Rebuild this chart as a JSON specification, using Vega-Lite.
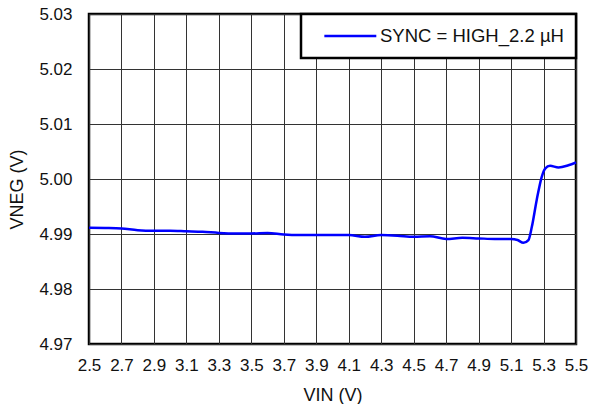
{
  "$schema": "https://vega.github.io/schema/vega-lite/v6.json",
  "width": 487,
  "height": 330,
  "autosize": "none",
  "padding": {"left": 89, "top": 14, "right": 16, "bottom": 60},
  "background": "white",
  "config": {
    "font": "Liberation Sans",
    "view": {"stroke": "black", "strokeWidth": 2.5},
    "axis": {
      "labelFont": "Liberation Sans",
      "titleFont": "Liberation Sans",
      "labelColor": "#111",
      "titleColor": "#111",
      "labelFontSize": 17,
      "titleFontSize": 18,
      "titleFontWeight": "normal",
      "domain": false,
      "ticks": false,
      "gridColor": "#333",
      "gridWidth": 1,
      "gridOpacity": 1
    }
  },
  "data": {
    "values": [
      {"vin": 2.5, "vneg": 4.99115, "series": "SYNC = HIGH_2.2 µH"},
      {"vin": 2.6, "vneg": 4.9911, "series": "SYNC = HIGH_2.2 µH"},
      {"vin": 2.7, "vneg": 4.9910, "series": "SYNC = HIGH_2.2 µH"},
      {"vin": 2.8, "vneg": 4.9907, "series": "SYNC = HIGH_2.2 µH"},
      {"vin": 2.9, "vneg": 4.9906, "series": "SYNC = HIGH_2.2 µH"},
      {"vin": 3.0, "vneg": 4.9906, "series": "SYNC = HIGH_2.2 µH"},
      {"vin": 3.1, "vneg": 4.9905, "series": "SYNC = HIGH_2.2 µH"},
      {"vin": 3.2, "vneg": 4.9904, "series": "SYNC = HIGH_2.2 µH"},
      {"vin": 3.3, "vneg": 4.9902, "series": "SYNC = HIGH_2.2 µH"},
      {"vin": 3.4, "vneg": 4.9901, "series": "SYNC = HIGH_2.2 µH"},
      {"vin": 3.5, "vneg": 4.9901, "series": "SYNC = HIGH_2.2 µH"},
      {"vin": 3.6, "vneg": 4.9902, "series": "SYNC = HIGH_2.2 µH"},
      {"vin": 3.7, "vneg": 4.9899, "series": "SYNC = HIGH_2.2 µH"},
      {"vin": 3.8, "vneg": 4.9898, "series": "SYNC = HIGH_2.2 µH"},
      {"vin": 3.9, "vneg": 4.9898, "series": "SYNC = HIGH_2.2 µH"},
      {"vin": 4.0, "vneg": 4.9898, "series": "SYNC = HIGH_2.2 µH"},
      {"vin": 4.1, "vneg": 4.9898, "series": "SYNC = HIGH_2.2 µH"},
      {"vin": 4.2, "vneg": 4.9895, "series": "SYNC = HIGH_2.2 µH"},
      {"vin": 4.3, "vneg": 4.9898, "series": "SYNC = HIGH_2.2 µH"},
      {"vin": 4.4, "vneg": 4.9897, "series": "SYNC = HIGH_2.2 µH"},
      {"vin": 4.5, "vneg": 4.9895, "series": "SYNC = HIGH_2.2 µH"},
      {"vin": 4.6, "vneg": 4.9896, "series": "SYNC = HIGH_2.2 µH"},
      {"vin": 4.7, "vneg": 4.9891, "series": "SYNC = HIGH_2.2 µH"},
      {"vin": 4.8, "vneg": 4.9893, "series": "SYNC = HIGH_2.2 µH"},
      {"vin": 4.9, "vneg": 4.9892, "series": "SYNC = HIGH_2.2 µH"},
      {"vin": 5.0, "vneg": 4.9891, "series": "SYNC = HIGH_2.2 µH"},
      {"vin": 5.1, "vneg": 4.9891, "series": "SYNC = HIGH_2.2 µH"},
      {"vin": 5.14, "vneg": 4.9889, "series": "SYNC = HIGH_2.2 µH"},
      {"vin": 5.176, "vneg": 4.9884, "series": "SYNC = HIGH_2.2 µH"},
      {"vin": 5.207, "vneg": 4.9889, "series": "SYNC = HIGH_2.2 µH"},
      {"vin": 5.228, "vneg": 4.9913, "series": "SYNC = HIGH_2.2 µH"},
      {"vin": 5.258, "vneg": 4.9962, "series": "SYNC = HIGH_2.2 µH"},
      {"vin": 5.289, "vneg": 5.0004, "series": "SYNC = HIGH_2.2 µH"},
      {"vin": 5.31, "vneg": 5.0019, "series": "SYNC = HIGH_2.2 µH"},
      {"vin": 5.34, "vneg": 5.0024, "series": "SYNC = HIGH_2.2 µH"},
      {"vin": 5.392, "vneg": 5.0021, "series": "SYNC = HIGH_2.2 µH"},
      {"vin": 5.453, "vneg": 5.0025, "series": "SYNC = HIGH_2.2 µH"},
      {"vin": 5.5, "vneg": 5.0030, "series": "SYNC = HIGH_2.2 µH"}
    ]
  },
  "mark": {"type": "line", "strokeWidth": 2.5, "interpolate": "monotone"},
  "encoding": {
    "x": {
      "field": "vin",
      "type": "quantitative",
      "scale": {"domain": [2.5, 5.5], "nice": false, "zero": false},
      "axis": {
        "title": "VIN (V)",
        "values": [2.5, 2.7, 2.9, 3.1, 3.3, 3.5, 3.7, 3.9, 4.1, 4.3, 4.5, 4.7, 4.9, 5.1, 5.3, 5.5],
        "format": ".1f",
        "labelPadding": 13,
        "titlePadding": 13,
        "labelFlush": false
      }
    },
    "y": {
      "field": "vneg",
      "type": "quantitative",
      "scale": {"domain": [4.97, 5.03], "nice": false, "zero": false},
      "axis": {
        "title": "VNEG (V)",
        "values": [4.97, 4.98, 4.99, 5.0, 5.01, 5.02, 5.03],
        "format": ".2f",
        "labelPadding": 17,
        "titlePadding": 12,
        "titleY": 175,
        "labelFlush": false
      }
    },
    "color": {
      "field": "series",
      "type": "nominal",
      "scale": {"range": ["#0000FF"]},
      "legend": {
        "title": null,
        "orient": "none",
        "legendX": 212,
        "legendY": 0,
        "padding": 12,
        "fillColor": "white",
        "strokeColor": "black",
        "symbolType": "M-1,0H5",
        "symbolSize": 300,
        "symbolStrokeWidth": 2.5,
        "symbolOffset": 10,
        "labelFont": "Liberation Sans",
        "labelFontSize": 18.5,
        "labelColor": "#111",
        "labelOffset": 37,
        "labelLimit": 300,
        "encode": {"legend": {"update": {"strokeWidth": {"value": 2.5}}}}
      }
    }
  }
}
